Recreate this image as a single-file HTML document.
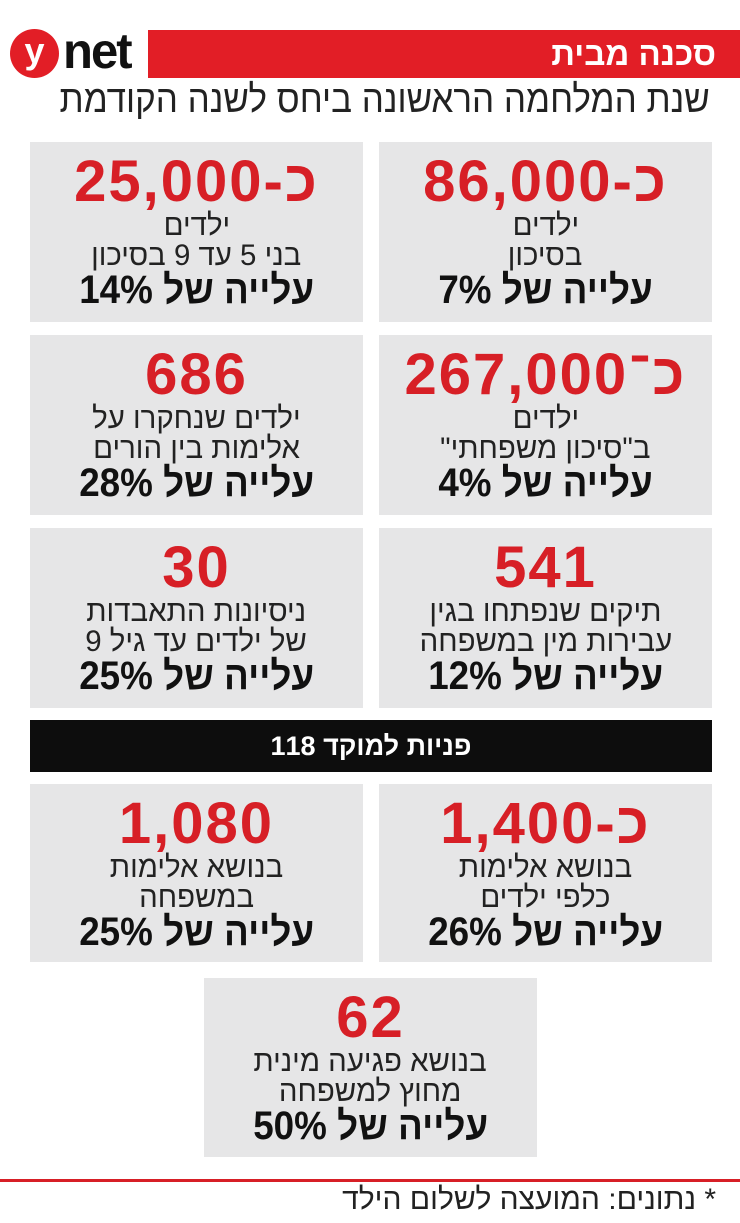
<!DOCTYPE html>
<html><head><meta charset="utf-8"><style>
body{margin:0;width:740px;height:1223px;background:#fff;position:relative;overflow:hidden;font-family:"Liberation Sans","DejaVu Sans",sans-serif;}
.a{position:absolute}
.box{position:absolute;background:#e6e6e7;width:333px;height:180px;text-align:center;direction:rtl}
.n{position:absolute;left:0;right:0;top:10px;font:bold 58px/60px "Liberation Sans",sans-serif;color:#d71f26;direction:ltr;letter-spacing:2px}
.n span{display:inline-block}
.l{position:absolute;left:0;right:0;font:30px/32px "Liberation Sans",sans-serif;color:#222}
.l span{display:inline-block;transform:scaleX(0.98)}
.b{position:absolute;left:0;right:0;font:bold 40px/40px "Liberation Sans",sans-serif;color:#111}
.b span{display:inline-block;transform:scaleX(0.92)}
</style></head><body>
<div class="a" style="left:10px;top:29px;width:49px;height:49px;border-radius:50%;background:#e21e26;color:#fff;font:bold 36px/44px 'Liberation Sans',sans-serif;text-align:center">y</div>
<div class="a" style="left:63px;top:22px;font:bold 50px/58px 'Liberation Sans',sans-serif;color:#111;letter-spacing:-2px;transform:scaleX(0.98);transform-origin:left">net</div>
<div class="a" style="left:148px;top:30px;width:592px;height:48px;background:#e21e26"></div>
<div class="a" style="right:24px;top:34px;color:#fff;font:bold 33px/40px 'Liberation Sans',sans-serif;direction:rtl">סכנה מבית</div>
<div class="a" style="right:30px;top:80px;color:#222;font:38px/40px 'Liberation Sans',sans-serif;direction:rtl;transform:scaleX(0.92);transform-origin:right">שנת המלחמה הראשונה ביחס לשנה הקודמת</div>

<div class="box" style="left:379px;top:142px"><div class="n"><span>כ-86,000</span></div><div class="l" style="top:68px"><span>ילדים</span></div><div class="l" style="top:98px"><span>בסיכון</span></div><div class="b" style="top:128px"><span>עלייה של 7%</span></div></div>
<div class="box" style="left:30px;top:142px"><div class="n"><span>כ-25,000</span></div><div class="l" style="top:68px"><span>ילדים</span></div><div class="l" style="top:98px"><span>בני 5 עד 9 בסיכון</span></div><div class="b" style="top:128px"><span>עלייה של 14%</span></div></div>

<div class="box" style="left:379px;top:335px"><div class="n"><span>כ־267,000</span></div><div class="l" style="top:68px"><span>ילדים</span></div><div class="l" style="top:98px"><span>ב"סיכון משפחתי"</span></div><div class="b" style="top:128px"><span>עלייה של 4%</span></div></div>
<div class="box" style="left:30px;top:335px"><div class="n"><span>686</span></div><div class="l" style="top:68px"><span>ילדים שנחקרו על</span></div><div class="l" style="top:98px"><span>אלימות בין הורים</span></div><div class="b" style="top:128px"><span>עלייה של 28%</span></div></div>

<div class="box" style="left:379px;top:528px"><div class="n"><span>541</span></div><div class="l" style="top:68px"><span>תיקים שנפתחו בגין</span></div><div class="l" style="top:98px"><span>עבירות מין במשפחה</span></div><div class="b" style="top:128px"><span>עלייה של 12%</span></div></div>
<div class="box" style="left:30px;top:528px"><div class="n"><span>30</span></div><div class="l" style="top:68px"><span>ניסיונות התאבדות</span></div><div class="l" style="top:98px"><span>של ילדים עד גיל 9</span></div><div class="b" style="top:128px"><span>עלייה של 25%</span></div></div>

<div class="a" style="left:30px;top:720px;width:682px;height:52px;background:#0d0d0d;color:#fff;text-align:center;font:bold 27px/52px 'Liberation Sans',sans-serif;direction:rtl">פניות למוקד 118</div>

<div class="box" style="left:379px;top:784px;height:178px"><div class="n"><span>כ-1,400</span></div><div class="l" style="top:68px"><span>בנושא אלימות</span></div><div class="l" style="top:98px"><span>כלפי ילדים</span></div><div class="b" style="top:128px"><span>עלייה של 26%</span></div></div>
<div class="box" style="left:30px;top:784px;height:178px"><div class="n"><span>1,080</span></div><div class="l" style="top:68px"><span>בנושא אלימות</span></div><div class="l" style="top:98px"><span>במשפחה</span></div><div class="b" style="top:128px"><span>עלייה של 25%</span></div></div>

<div class="box" style="left:204px;top:978px;height:179px"><div class="n"><span>62</span></div><div class="l" style="top:68px"><span>בנושא פגיעה מינית</span></div><div class="l" style="top:98px"><span>מחוץ למשפחה</span></div><div class="b" style="top:128px"><span>עלייה של 50%</span></div></div>

<div class="a" style="left:0;top:1179px;width:740px;height:3px;background:#d71f26"></div>
<div class="a" style="right:24px;top:1184px;color:#222;font:30px/32px 'Liberation Sans',sans-serif;direction:rtl">* נתונים: המועצה לשלום הילד</div>
</body></html>
